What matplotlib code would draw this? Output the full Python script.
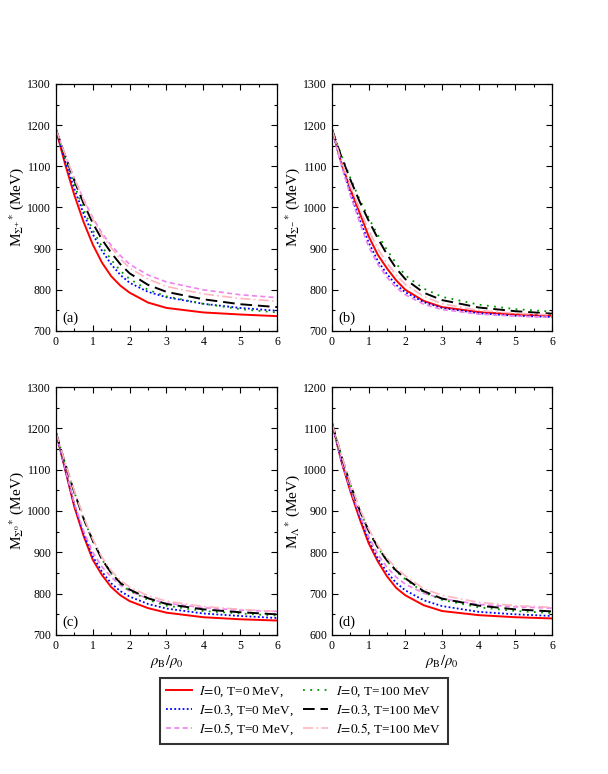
import matplotlib.pyplot as plt
from matplotlib.ticker import MultipleLocator

plt.rcParams['font.family'] = ['Liberation Serif', 'DejaVu Serif']
plt.rcParams['mathtext.fontset'] = 'stix'

# density points rho_B/rho_0
rho = [0, 0.25, 0.5, 0.75, 1, 1.25, 1.5, 1.75, 2, 2.5, 3, 4, 5, 6]

# (a) Sigma+
a_i0_t0 = [1190, 1105, 1030, 965, 910, 866, 833, 810, 793, 769, 756, 745, 740, 736]
a_i3_t0 = [1190, 1112, 1045, 985, 935, 895, 862, 836, 817, 795, 782, 766, 756, 749]
a_i5_t0 = [1190, 1128, 1070, 1020, 975, 938, 908, 883, 862, 836, 819, 800, 788, 781]
a_i0_t100 = [1190, 1120, 1055, 995, 945, 905, 873, 846, 826, 800, 784, 766, 753, 745]
a_i3_t100 = [1190, 1125, 1065, 1010, 962, 922, 890, 862, 840, 812, 795, 777, 765, 758]
a_i5_t100 = [1190, 1128, 1070, 1018, 972, 933, 902, 875, 853, 826, 808, 790, 779, 772]

# (b) Sigma-
b_i0_t0 = [1190, 1110, 1045, 988, 930, 885, 852, 823, 800, 773, 758, 746, 740, 737]
b_i3_t0 = [1190, 1107, 1035, 972, 915, 870, 838, 812, 794, 770, 756, 743, 737, 734]
b_i5_t0 = [1190, 1105, 1030, 965, 905, 862, 830, 805, 788, 765, 752, 741, 736, 733]
b_i0_t100 = [1190, 1128, 1072, 1020, 975, 933, 897, 864, 835, 803, 783, 764, 753, 747]
b_i3_t100 = [1190, 1125, 1068, 1015, 968, 925, 886, 852, 826, 793, 775, 757, 748, 742]
b_i5_t100 = [1190, 1115, 1052, 998, 945, 900, 865, 836, 813, 784, 766, 750, 743, 739]

# (c) Sigma0
c_i0_t0 = [1190, 1100, 1010, 940, 882, 845, 816, 796, 782, 765, 754, 743, 738, 735]
c_i3_t0 = [1190, 1102, 1015, 945, 890, 853, 825, 806, 793, 775, 764, 752, 746, 741]
c_i5_t0 = [1190, 1103, 1018, 952, 900, 865, 840, 820, 806, 788, 777, 766, 760, 757]
c_i0_t100 = [1190, 1115, 1045, 982, 928, 883, 849, 824, 807, 785, 771, 758, 752, 747]
c_i3_t100 = [1190, 1115, 1045, 982, 928, 883, 850, 826, 810, 789, 775, 762, 755, 750]
c_i5_t100 = [1190, 1117, 1048, 986, 932, 888, 856, 832, 816, 795, 782, 769, 762, 757]

# (d) Lambda
d_i0_t0 = [1113, 1022, 948, 882, 822, 778, 742, 714, 696, 672, 658, 648, 643, 640]
d_i3_t0 = [1113, 1023, 952, 888, 830, 785, 752, 726, 708, 684, 670, 656, 650, 646]
d_i5_t0 = [1113, 1024, 954, 892, 838, 795, 764, 740, 723, 701, 688, 674, 668, 665]
d_i0_t100 = [1113, 1035, 965, 903, 852, 812, 779, 754, 735, 703, 685, 667, 658, 653]
d_i3_t100 = [1113, 1035, 965, 903, 852, 812, 780, 756, 737, 706, 688, 671, 662, 657]
d_i5_t100 = [1113, 1037, 968, 907, 857, 817, 786, 762, 743, 712, 696, 679, 671, 667]

labels = [r'$\it{I\!=\!0}$, T=0 MeV,', r'$\it{I\!=\!0.3}$, T=0 MeV,',
          r'$\it{I\!=\!0.5}$, T=0 MeV,', r'$\it{I\!=\!0}$, T=100 MeV',
          r'$\it{I\!=\!0.3}$, T=100 MeV', r'$\it{I\!=\!0.5}$, T=100 MeV']
colors = ['#ff0000', '#0000ff', '#ee82ee', '#009900', '#000000', '#ffb6c1']
styles = ['-', (0, (1, 1.3)), (0, (3, 2)), (0, (1, 3)), (0, (6, 3)), (0, (6, 2, 1, 2))]
widths = [1.4, 1.3, 1.2, 1.3, 1.4, 1.2]

panels = [
    ([a_i0_t0, a_i3_t0, a_i5_t0, a_i0_t100, a_i3_t100, a_i5_t100],
     r'M$_{\Sigma^{+}}$$^{*}$ (MeV)', (700, 1300), '(a)', [0.092, 0.5724, 0.3635, 0.3191], False),
    ([b_i0_t0, b_i3_t0, b_i5_t0, b_i0_t100, b_i3_t100, b_i5_t100],
     r'M$_{\Sigma^{-}}$$^{*}$ (MeV)', (700, 1300), '(b)', [0.546, 0.5724, 0.362, 0.3191], False),
    ([c_i0_t0, c_i3_t0, c_i5_t0, c_i0_t100, c_i3_t100, c_i5_t100],
     r'M$_{\Sigma^{0}}$$^{*}$ (MeV)', (700, 1300), '(c)', [0.092, 0.1796, 0.3635, 0.3204], True),
    ([d_i0_t0, d_i3_t0, d_i5_t0, d_i0_t100, d_i3_t100, d_i5_t100],
     r'M$_{\Lambda}$$^{*}$ (MeV)', (600, 1200), '(d)', [0.546, 0.1796, 0.362, 0.3204], True),
]

fig = plt.figure(figsize=(6.08, 7.74), dpi=100)
handles = None
for series, ylab, ylim, tag, pos, bottom in panels:
    ax = fig.add_axes(pos)
    lines = []
    for ys, c, ls, lw, lab in zip(series, colors, styles, widths, labels):
        ln, = ax.plot(rho, ys, color=c, ls=ls, lw=lw, label=lab)
        lines.append(ln)
    handles = lines
    ax.set_xlim(0, 6)
    ax.set_ylim(*ylim)
    ax.xaxis.set_major_locator(MultipleLocator(1))
    ax.xaxis.set_minor_locator(MultipleLocator(0.5))
    ax.yaxis.set_major_locator(MultipleLocator(100))
    ax.yaxis.set_minor_locator(MultipleLocator(50))
    ax.tick_params(which='both', direction='in', top=True, right=True, labelsize=8.5)
    ax.tick_params(which='major', length=4, width=0.8)
    ax.tick_params(which='minor', length=2.5, width=0.8)
    for s in ax.spines.values():
        s.set_linewidth(0.9)
    ax.set_ylabel(ylab, fontsize=11, labelpad=1)
    if bottom:
        ax.set_xlabel(r'$\rho_{\rm B}/\rho_0$', fontsize=10.5, labelpad=1)
    ax.text(0.03, 0.035, tag, transform=ax.transAxes, fontsize=10.5)

leg = fig.legend(handles, labels, loc='center', bbox_to_anchor=(0.5, 0.0814), ncol=2,
                 fontsize=9.5, frameon=True, fancybox=False, edgecolor='black',
                 handlelength=1.9, columnspacing=0.7, labelspacing=0.3,
                 handletextpad=0.6, borderpad=0.5)
leg.get_frame().set_linewidth(1.5)

fig.savefig('out.png', dpi=100)
